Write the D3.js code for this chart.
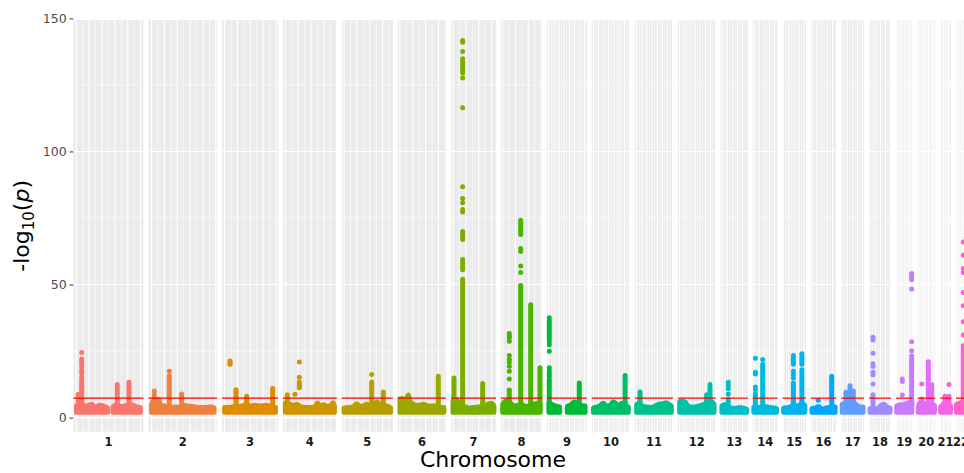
<!DOCTYPE html>
<html>
<head>
<meta charset="utf-8">
<script src="https://cdn.jsdelivr.net/npm/d3@7"></script>
<style>
  html, body { margin: 0; padding: 0; background: #fff; }
  svg { display: block; font-family: "DejaVu Sans", sans-serif; }
</style>
</head>
<body>
<svg id="chart" width="964" height="473"></svg>
<script>
// chromosomes and the span (Mb) covered by the SNPs on each
const chromosomes = ["1","2","3","4","5","6","7","8","9","10","11","12","13","14","15","16","17","18","19","20","21","22"];
const chrStart = [0.75, 0.01, 0.06, 0.07, 0.02, 0.2, 0.04, 0.16, 0.2, 0.1, 0.2, 0.1, 19, 19, 20, 0.08, 0.01, 0.01, 0.26, 0.06, 9.4, 16];
const chrEnd   = [249.2, 243.1, 197.9, 191, 180.8, 171, 159.1, 146.3, 141.1, 135.5, 135, 133.8, 115.1, 107.3, 102.4, 90.3, 81.1, 78, 59.1, 62.9, 48.1, 51.2];
// the colour scale also holds X and Y, which fall off the right edge
const paletteSize = 24;

// top of the dense mass of points per chromosome [pos Mb, -log10 p] (null = no SNPs)
const bandTops = [
  [[0.75,4.4],[8,5],[15,5.5],[25,5],[34,4.2],[47,4.6],[60,5],[73,3.8],[92,4.6],[105,4.4],[118,3.8],[122,3.6],[132,null],[143,4.2],[160,4.8],[172,4.2],[196,4.6],[215,4.8],[235,4],[249.2,3.8]],
  [[0.01,5],[8,6.5],[18,6.3],[28,6.8],[35,4.5],[50,4.4],[60,4.2],[75,3.8],[95,4],[110,3.8],[125,4.6],[140,4.4],[160,4.2],[185,3.8],[210,3.8],[230,4.1],[243.1,3.6]],
  [[0.06,3.8],[15,3.8],[30,4],[50,4.4],[60,4.2],[75,4.6],[85,5],[100,4.4],[120,4.6],[140,4.4],[160,4.6],[175,4.3],[190,3.8],[197.9,3.8]],
  [[0.07,5.5],[10,5.5],[20,5],[30,4.6],[45,5],[60,4],[80,3.8],[100,3.8],[115,4],[125,5.5],[135,4.2],[150,4.8],[160,4.2],[175,4.4],[186,5.6],[191,4.5]],
  [[0.02,3.6],[20,3.8],[35,4],[49,5.2],[60,4.2],[75,4.4],[88,5],[100,4.5],[115,4.8],[129,6],[140,4.8],[160,4.6],[175,4],[180.8,3.6]],
  [[0.2,7],[10,7.2],[20,6.5],[28,7.5],[33,8.5],[40,6],[52,5],[70,4.6],[91,5],[110,4.4],[130,4.4],[143,4.4],[155,3.8],[171,3.8]],
  [[0.04,6],[10,7],[20,6],[28,5],[45,4.2],[60,3.6],[80,3.8],[100,4],[120,4.2],[135,5],[150,5.4],[159.1,4.4]],
  [[0.16,5],[8,6],[20,6.5],[30,5.5],[45,4.4],[60,4.6],[75,4.8],[90,4.2],[105,4.4],[120,5],[135,5.4],[146.3,4.4]],
  [[0.2,5.5],[10,5],[25,4.4],[42,4],[57,null],[72,4.2],[85,4.8],[100,6],[110,5],[125,4.6],[141.1,4.4]],
  [[0.1,3.6],[15,4],[25,4.4],[38,5.4],[50,4.4],[65,4.6],[77,6],[90,5],[100,4.6],[110,5.4],[123,4.8],[135.5,4]],
  [[0.2,5],[8,5.2],[20,4.4],[35,4],[55,3.8],[70,4.2],[85,5],[100,5.2],[115,5.6],[125,5],[135,4.4]],
  [[0.1,6],[10,6.2],[22,5.8],[30,4.6],[45,4],[60,4],[75,4.4],[90,4.8],[100,5.2],[110,5.6],[125,6],[133.8,5]],
  [[19,4.4],[30,4.8],[40,4.2],[55,3.6],[70,3.4],[85,3.8],[100,3.6],[115.1,3.2]],
  [[19,4],[40,3.8],[60,4.2],[80,3.8],[100,3.6],[107.3,3.4]],
  [[20,3.6],[40,3.8],[60,4.8],[75,4.2],[90,5.4],[102.4,4.6]],
  [[0.08,3.4],[15,3.6],[25,4.2],[40,3.2],[55,3.6],[70,3.8],[90.3,4]],
  [[0.01,5],[10,5.5],[20,5.8],[35,5.5],[50,5.2],[60,4.4],[70,4],[81.1,4]],
  [[0.01,3.4],[15,3.6],[30,3.2],[45,4.8],[55,5],[65,4],[78,3.6]],
  [[0.26,4.4],[15,4.8],[30,5],[45,5.5],[59.1,6]],
  [[0.06,4.4],[10,6],[20,5.5],[30,5],[45,6],[55,5],[62.9,4.6]],
  [[9.4,4],[20,5],[30,5.5],[40,5],[48.1,4.4]],
  [[16,5],[30,5.5],[45,6],[51.2,5]]
];

// single points that stand apart above the mass [chr, pos Mb, values]
const peakDots = [
  ["1", 21, [24.5, 22, 21.2, 20.3, 19, 17.8, 16.8, 15.3, 14]],
  ["2", 10.7, [10]], ["2", 69, [17.4]],
  ["3", 21.1, [21.3, 20.6, 20]],
  ["4", 37.6, [8.8]], ["4", 54.5, [20.9, 15.2, 13.4, 12.6, 11.8, 11.2]],
  ["5", 107.4, [16.2]],
  ["7", 37.7, [141.7, 141, 137.6, 134.8, 127.6, 116.4, 86.7, 82.3, 80.7, 78.2, 77.3]],
  ["8", 25.9, [31.6, 30.8, 30, 28.7, 23.3, 21.8, 20.8, 19.3, 17.4, 14.5]],
  ["8", 70.1, [63.5, 62.4, 57, 54.5]],
  ["9", 1.9, [37.5, 29.6, 28.5, 27.4, 24.9, 18.7, 17.5, 16.5, 15.5]],
  ["12", 118, [12.4]],
  ["13", 43.9, [13.3, 12.1, 10.8, 8.9]],
  ["14", 25, [22.3, 17, 16.4, 11.5, 10.5]], ["14", 53.4, [21.8]],
  ["15", 58, [17.4, 16.2, 14.9]], ["15", 91, [18, 17, 16]],
  ["16", 24.9, [6.5]],
  ["18", 11.6, [30.2, 29.2, 24.2, 20.2, 19.2, 17, 16, 12.6]],
  ["19", 21.9, [14.5, 13.6, 8.5]], ["19", 58.5, [54.1, 53.4, 52.6, 51.8, 48.3, 28.5, 25.1]],
  ["20", 13.6, [12.6]],
  ["21", 42, [12.4]],
  ["22", 42.6, [66, 61, 56, 54.5, 47, 42, 36, 31]]
];

// solid vertical runs of overlapping points [chr, pos Mb, low, high]
const peakRuns = [
  ["1", 7.8, 5, 8.8], ["1", 21, 5, 13.3], ["1", 159.5, 5, 12.4], ["1", 205, 5, 13.3],
  ["2", 10.7, 5, 8.6], ["2", 69, 5, 15.7], ["2", 117, 5, 8.9],
  ["3", 44.4, 5, 10.5], ["3", 86, 5, 8], ["3", 187.2, 5, 10.9],
  ["4", 7.7, 5, 8.6],
  ["5", 107.4, 5, 13.4], ["5", 152.7, 5, 9.6],
  ["6", 149.4, 5, 15.5],
  ["7", 3.9, 5, 14.9], ["7", 37.7, 129.5, 133.9], ["7", 37.7, 66.9, 69.9], ["7", 37.7, 55.6, 59.4], ["7", 37.7, 5, 52], ["7", 115.5, 5, 12.8],
  ["8", 25.9, 5, 10.4], ["8", 70.1, 68.8, 74.2], ["8", 70.1, 5, 49.6], ["8", 109, 5, 42.4], ["8", 145.3, 5, 18.7],
  ["9", 1.9, 30.6, 36.5], ["9", 1.9, 5, 14.3], ["9", 118.7, 5, 13],
  ["10", 123, 5, 15.8],
  ["11", 13.1, 5, 9.6],
  ["12", 105.2, 5, 8.6], ["12", 118, 5, 11.2],
  ["13", 43.9, 5, 7],
  ["14", 25, 5, 9], ["14", 53.4, 5, 20],
  ["15", 58, 20, 23.3], ["15", 58, 5, 13], ["15", 91, 20, 24], ["15", 91, 5, 15],
  ["16", 77, 5, 15.5],
  ["17", 14.6, 5, 9.5], ["17", 30.2, 5, 12], ["17", 43.1, 5, 10],
  ["18", 11.6, 5, 8.6],
  ["19", 58.5, 5, 23.2],
  ["20", 13.6, 5, 7], ["20", 39, 5, 21], ["20", 52, 5, 12.4],
  ["21", 26.3, 5, 8], ["21", 42, 5, 8],
  ["22", 42.6, 5, 27]
];

const bandFloor = 2;
const threshold = 7.3;          // genome-wide significance line
const yTicks = [0, 50, 100, 150];
const yMinor = [25, 75, 125];

// ggplot hue palette (R hcl, polarLUV) -> hex
function hclHex(h, c, l) {
  const WX = 95.047, WY = 100, WZ = 108.883;
  const den = WX + 15 * WY + 3 * WZ;
  const un = 4 * WX / den, vn = 9 * WY / den;
  const hr = h * Math.PI / 180;
  const U = c * Math.cos(hr), V = c * Math.sin(hr);
  const Y = WY * Math.pow((l + 16) / 116, 3);
  const uu = U / (13 * l) + un, vv = V / (13 * l) + vn;
  const X = 9 * Y * uu / (4 * vv);
  const Z = -X / 3 - 5 * Y + 3 * Y / vv;
  const lin = [
     3.240479 * X - 1.537150 * Y - 0.498535 * Z,
    -0.969256 * X + 1.875992 * Y + 0.041556 * Z,
     0.055648 * X - 0.204043 * Y + 1.057311 * Z
  ].map(v => v / WY);
  const rgb = lin.map(v => {
    const g = v <= 0.0031308 ? 12.92 * v : 1.055 * Math.pow(v, 1 / 2.4) - 0.055;
    return Math.round(Math.max(0, Math.min(1, g)) * 255);
  });
  return d3.rgb(rgb[0], rgb[1], rgb[2]).formatHex();
}
const colors = chromosomes.map((c, i) => hclHex(15 + i * 360 / paletteSize, 100, 65));

// layout
const svg = d3.select("#chart");
const panelTop = 20, panelBottom = 431.7;
const left0 = 73.3, gap = 4.9, pxPerMb = 0.257;

const y = d3.scaleLinear().domain([-5.3, 149.4]).range([panelBottom, panelTop]);

let cursor = left0;
const panels = chromosomes.map((chr, i) => {
  const span = chrEnd[i] - chrStart[i];
  const w = span * 1.1 * pxPerMb;
  const xs = d3.scaleLinear()
    .domain([chrStart[i] - 0.05 * span, chrEnd[i] + 0.05 * span])
    .range([cursor, cursor + w]);
  const p = { chr: chr, i: i, x0: cursor, w: w, xs: xs };
  cursor += w + gap;
  return p;
});

const dotR = 2.5;

panels.forEach(p => {
  const g = svg.append("g").attr("class", "panel chr" + p.chr);
  const col = colors[p.i];

  g.append("rect")
    .attr("x", p.x0).attr("y", panelTop)
    .attr("width", p.w).attr("height", panelBottom - panelTop)
    .attr("fill", "#EBEBEB");

  // grid: majors from the panel scale, minors halfway between
  const dom = p.xs.domain();
  const majors = p.xs.ticks(5);
  const step = majors[1] - majors[0];
  const minors = [majors[0] - step / 2].concat(majors.map(m => m + step / 2))
    .filter(m => m > dom[0] && m < dom[1]);

  g.selectAll(".vminor").data(minors).join("line")
    .attr("x1", d => p.xs(d)).attr("x2", d => p.xs(d))
    .attr("y1", panelTop).attr("y2", panelBottom)
    .attr("stroke", "#fff").attr("stroke-width", 0.55);
  g.selectAll(".hminor").data(yMinor).join("line")
    .attr("x1", p.x0).attr("x2", p.x0 + p.w)
    .attr("y1", d => y(d)).attr("y2", d => y(d))
    .attr("stroke", "#fff").attr("stroke-width", 0.55);
  g.selectAll(".vmajor").data(majors).join("line")
    .attr("x1", d => p.xs(d)).attr("x2", d => p.xs(d))
    .attr("y1", panelTop).attr("y2", panelBottom)
    .attr("stroke", "#fff").attr("stroke-width", 1.1);
  g.selectAll(".hmajor").data(yTicks.filter(t => t <= y.domain()[1])).join("line")
    .attr("x1", p.x0).attr("x2", p.x0 + p.w)
    .attr("y1", d => y(d)).attr("y2", d => y(d))
    .attr("stroke", "#fff").attr("stroke-width", 1.1);

  // dense mass of points
  const area = d3.area()
    .defined(d => d[1] !== null)
    .x(d => p.xs(d[0]))
    .y0(y(bandFloor))
    .y1(d => y(d[1]))
    .curve(d3.curveMonotoneX);
  g.append("path")
    .attr("d", area(bandTops[p.i]))
    .attr("fill", col).attr("stroke", col)
    .attr("stroke-width", dotR * 2).attr("stroke-linejoin", "round");

  // runs of stacked points
  g.selectAll(".run").data(peakRuns.filter(r => r[0] === p.chr)).join("line")
    .attr("x1", d => p.xs(d[1])).attr("x2", d => p.xs(d[1]))
    .attr("y1", d => y(d[2])).attr("y2", d => y(d[3]))
    .attr("stroke", col).attr("stroke-width", dotR * 2).attr("stroke-linecap", "round");

  // separate points
  const dots = [];
  peakDots.filter(d => d[0] === p.chr).forEach(d => d[2].forEach(v => dots.push([d[1], v])));
  g.selectAll(".dot").data(dots).join("circle")
    .attr("cx", d => p.xs(d[0])).attr("cy", d => y(d[1]))
    .attr("r", dotR).attr("fill", col);

  // significance line
  g.append("line")
    .attr("x1", p.x0).attr("x2", p.x0 + p.w)
    .attr("y1", y(threshold)).attr("y2", y(threshold))
    .attr("stroke", "#FF0000").attr("stroke-width", 1.2);

  // strip label under the panel
  g.append("text")
    .attr("x", p.x0 + p.w / 2).attr("y", 445.8)
    .attr("text-anchor", "middle")
    .attr("font-size", "11.5px").attr("font-weight", "bold")
    .attr("fill", "#1A1A1A")
    .text(p.chr);
});

// y axis
const yAxis = svg.append("g")
  .attr("transform", `translate(${left0},0)`)
  .call(d3.axisLeft(y).tickValues(yTicks).tickSize(3.7).tickPadding(3));
yAxis.select(".domain").remove();
yAxis.selectAll(".tick line").attr("stroke", "#333333").attr("stroke-width", 1);
yAxis.selectAll(".tick text")
  .attr("fill", "#4D4D4D").attr("font-size", "12.5px")
  .attr("font-family", "DejaVu Sans, sans-serif");

// axis titles
const yTitle = svg.append("text")
  .attr("transform", `translate(29,${(panelTop + panelBottom) / 2}) rotate(-90)`)
  .attr("text-anchor", "middle")
  .attr("font-size", "22px").attr("fill", "#000");
yTitle.append("tspan").text("-log");
yTitle.append("tspan").attr("font-size", "15px").attr("dy", "5").text("10");
yTitle.append("tspan").attr("dy", "-5").text("(");
yTitle.append("tspan").attr("font-style", "italic").text("p");
yTitle.append("tspan").text(")");

svg.append("text")
  .attr("x", 493).attr("y", 467)
  .attr("text-anchor", "middle")
  .attr("font-size", "22px").attr("fill", "#000")
  .text("Chromosome");
</script>
</body>
</html>
